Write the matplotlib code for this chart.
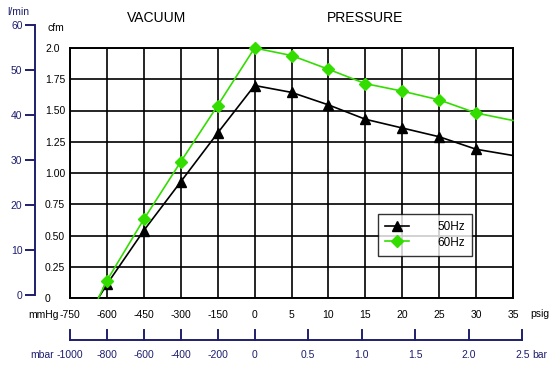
import matplotlib
matplotlib.use("Agg")
import matplotlib.pyplot as plt

plt.rcParams['font.family'] = ['Liberation Sans', 'DejaVu Sans']

# ---- data ----
x_ticklabels = ['-750', '-600', '-450', '-300', '-150', '0', '5', '10', '15', '20', '25', '30', '35']
mbar_ticks = [-1000, -800, -600, -400, -200, 0]
bar_ticks = [0.5, 1.0, 1.5, 2.0, 2.5]
cfm_ticks = [0, 0.25, 0.5, 0.75, 1.0, 1.25, 1.5, 1.75, 2.0]
cfm_ticklabels = ['0', '0.25', '0.50', '0.75', '1.00', '1.25', '1.50', '1.75', '2.0']
lmin_ticks = [0, 10, 20, 30, 40, 50, 60]

# x positions on the chart grid (index of grid column), first point = zero-flow intercept
x_pos = [0.77, 1, 2, 3, 4, 5, 6, 7, 8, 9, 10, 11, 12]
flow_50hz = [0.0, 0.11, 0.54, 0.93, 1.32, 1.70, 1.645, 1.545, 1.43, 1.36, 1.29, 1.19, 1.14]
flow_60hz = [0.0, 0.14, 0.63, 1.09, 1.54, 2.00, 1.94, 1.83, 1.715, 1.655, 1.585, 1.48, 1.42]

NAVY = '#1e1e6e'
GREEN = '#33dd00'
FS = 7.5

W, H = 554, 367
fig = plt.figure(figsize=(W / 100, H / 100), dpi=100)

def rect(x0, y0, x1, y1):
    return [x0 / W, 1 - y1 / H, (x1 - x0) / W, (y1 - y0) / H]

ax = fig.add_axes(rect(70, 48, 513, 298))
ax.set_xlim(0, 12)
ax.set_ylim(0, 2.0)
ax.set_xticks(range(13))
ax.set_xticklabels(x_ticklabels, fontsize=FS)
ax.set_yticks(cfm_ticks)
ax.set_yticklabels(cfm_ticklabels, fontsize=FS, ha='left')
ax.tick_params(axis='y', length=0, pad=18)
ax.tick_params(axis='x', length=0, pad=9)
ax.grid(True, color='black', linewidth=1.2)
ax.set_axisbelow(True)
for s in ax.spines.values():
    s.set_linewidth(1.4)

mk = list(range(1, 12))
ax.plot(x_pos, flow_50hz, color='black', lw=1.2, marker='^', ms=7,
        markevery=mk, mfc='black', mec='black', label='50Hz', clip_on=False, zorder=3)
ax.plot(x_pos, flow_60hz, color=GREEN, lw=1.2, marker='D', ms=6.5,
        markevery=mk, mfc=GREEN, mec=GREEN, label='60Hz', clip_on=False, zorder=3)

leg = ax.legend(loc='upper left', bbox_to_anchor=((378 - 70) / 443, 1 - (214 - 48) / 250),
                borderaxespad=0, fontsize=8.5, frameon=True, fancybox=False, edgecolor='black',
                handlelength=2.0, borderpad=0.6, labelspacing=0.3, handletextpad=2.4)
leg.get_frame().set_linewidth(1.0)

# cfm label
fig.text(47 / W, 1 - 28 / H, 'cfm', fontsize=FS, ha='left', va='center')

# l/min outer axis
ax2 = fig.add_axes(rect(35, 25, 36, 295))
ax2.set_ylim(0, 60)
ax2.set_yticks(lmin_ticks)
ax2.set_xticks([])
for k in ['top', 'right', 'bottom']:
    ax2.spines[k].set_visible(False)
ax2.spines['left'].set_color(NAVY)
ax2.spines['left'].set_linewidth(1.4)
ax2.tick_params(axis='y', colors=NAVY, length=7, width=1.4, labelsize=FS, pad=2)
ax2.patch.set_alpha(0)
fig.text(18 / W, 1 - 12 / H, 'l/min', fontsize=FS, ha='center', va='center', color=NAVY)

# mbar / bar axis (unit conversions to grid positions)
def mbar_to_pos(v):
    return 5 + v * 0.750062 / 150.0
def bar_to_pos(v):
    return 5 + v * 14.5038 / 5.0

ax3 = fig.add_axes(rect(70, 330, 70 + 12.25 * 443 / 12, 340))
ax3.set_xlim(0, 12.25)
ax3.set_ylim(0, 1)
ax3.set_yticks([])
for k in ['top', 'left', 'right']:
    ax3.spines[k].set_visible(False)
ax3.spines['bottom'].set_color(NAVY)
ax3.spines['bottom'].set_linewidth(1.4)
ax3.patch.set_alpha(0)
ax3.set_xticks([])
tick_positions = [mbar_to_pos(v) for v in mbar_ticks] + [bar_to_pos(v) for v in bar_ticks]
tick_labels = [str(v) for v in mbar_ticks] + ['%.1f' % v for v in bar_ticks]
for p, lab in zip(tick_positions, tick_labels):
    ax3.plot([p, p], [0, 1], color=NAVY, lw=1.4, clip_on=False)
    ax3.text(p, -1.5, lab, color=NAVY, fontsize=FS, ha='center', va='center')

fig.text(44 / W, 1 - 315 / H, 'mmHg', fontsize=FS, ha='center', va='center')
fig.text(540 / W, 1 - 314 / H, 'psig', fontsize=FS, ha='center', va='center')
fig.text(42 / W, 1 - 355 / H, 'mbar', fontsize=FS, ha='center', va='center', color=NAVY)
fig.text(540 / W, 1 - 355 / H, 'bar', fontsize=FS, ha='center', va='center', color=NAVY)

fig.text(157 / W, 1 - 18 / H, 'VACUUM', fontsize=10, ha='center', va='center')
fig.text(365 / W, 1 - 18 / H, 'PRESSURE', fontsize=10, ha='center', va='center')

fig.savefig('out.png', dpi=100)
